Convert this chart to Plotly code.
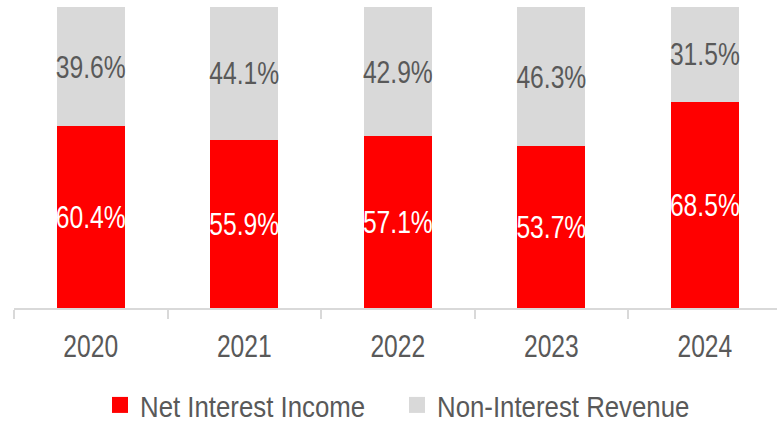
import plotly.graph_objects as go

years = ["2020", "2021", "2022", "2023", "2024"]
net_interest_income = [60.4, 55.9, 57.1, 53.7, 68.5]
non_interest_revenue = [39.6, 44.1, 42.9, 46.3, 31.5]

RED = "#FF0000"
GREY = "#D9D9D9"
TEXT = "#595959"
FONT = "Liberation Sans, Arial, sans-serif"

fig = go.Figure()

fig.add_trace(go.Bar(
    x=years, y=net_interest_income, name="Net Interest Income",
    marker=dict(color=RED, line=dict(width=0)),
    texttemplate="%{y:.1f}%", textposition="inside", insidetextanchor="middle",
    textangle=0, constraintext="none",
    textfont=dict(color="white", size=32, family=FONT),
    width=0.443, showlegend=False,
))
fig.add_trace(go.Bar(
    x=years, y=non_interest_revenue, name="Non-Interest Revenue",
    marker=dict(color=GREY, line=dict(width=0)),
    texttemplate="%{y:.1f}%", textposition="inside", insidetextanchor="middle",
    textangle=0, constraintext="none",
    textfont=dict(color=TEXT, size=32, family=FONT),
    width=0.443, showlegend=False,
))

# legend entries with larger square swatches, one legend per entry
fig.add_trace(go.Scatter(
    x=[None], y=[None], mode="markers", name="Net Interest Income", legend="legend",
    marker=dict(symbol="square", size=16, color=RED, line=dict(width=0)),
))
fig.add_trace(go.Scatter(
    x=[None], y=[None], mode="markers", name="Non-Interest Revenue", legend="legend2",
    marker=dict(symbol="square", size=16, color=GREY, line=dict(width=0)),
))

legend_common = dict(
    orientation="h", xanchor="left", yanchor="middle", y=-0.322,
    font=dict(size=30, color=TEXT, family=FONT),
    itemsizing="trace", itemwidth=30, bgcolor="rgba(0,0,0,0)",
)

fig.update_layout(
    width=777, height=422,
    barmode="stack",
    paper_bgcolor="white", plot_bgcolor="white",
    margin=dict(l=14, r=0, t=7, b=114, autoexpand=False),
    font=dict(family=FONT, size=30, color=TEXT),
    xaxis=dict(
        type="category", range=[-0.5, 4.47],
        showline=True, linecolor=GREY, linewidth=1.5,
        ticks="outside", tickson="boundaries", ticklen=9, tickcolor=GREY, tickwidth=1.5,
        ticklabelstandoff=9,
        showgrid=False, zeroline=False,
        tickfont=dict(size=32, color=TEXT, family=FONT),
    ),
    yaxis=dict(range=[0, 100], visible=False, showgrid=False, zeroline=False),
    legend=dict(legend_common, x=(100 - 14) / 763),
    legend2=dict(legend_common, x=(397 - 14) / 763),
)

# condense the text horizontally (narrow face look)
post = """
var gd = document.getElementById('{plot_id}');
function squeeze() {
  gd.querySelectorAll('text').forEach(function (t) {
    if (t.getAttribute('data-sq')) return;
    var size = parseFloat(window.getComputedStyle(t).fontSize);
    var f = size < 31 ? 0.86 : 0.77;
    var w = t.getComputedTextLength();
    if (w > 0) {
      t.setAttribute('textLength', (w * f).toFixed(2));
      t.setAttribute('lengthAdjust', 'spacingAndGlyphs');
      t.setAttribute('data-sq', '1');
    }
  });
}
squeeze();
gd.on('plotly_afterplot', squeeze);
"""

fig.write_html("out.html", post_script=post)
